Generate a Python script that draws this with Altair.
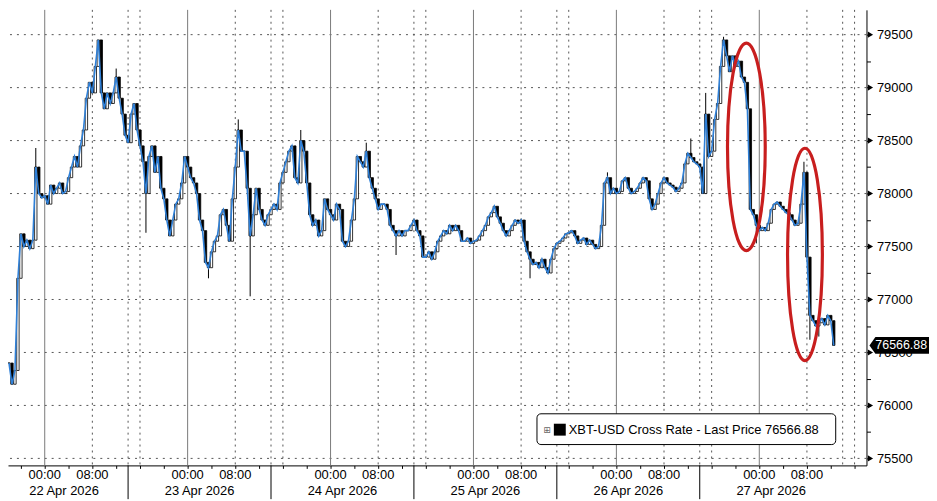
import altair as alt
import pandas as pd

# ---------------- data ----------------
start_time = "2026-04-21 18:00"   # first 30-min bar
close = [
    76400, 76200, 76330, 77200, 77620, 77500, 77560, 77480, 77560, 78250, 78000, 77960, 77980,
    77900, 78080, 78000, 78050, 78100, 78000, 78020, 78150, 78250, 78350, 78250, 78450, 78600, 78900, 79050, 78950,
    79200, 79450, 78950, 78800, 78950, 78850, 78950, 79100, 78900, 78750, 78550, 78480, 78750, 78850, 78600, 78450,
    78300, 78000, 78350, 78450, 78200, 78350, 78050, 77950, 77750, 77600, 77750, 77900, 77950, 78100, 78350, 78250,
    78150, 78100, 78000, 77750, 77650, 77350, 77300, 77450, 77550, 77600, 77800, 77850, 77700, 77550, 77950, 78250,
    78600, 78400, 78400, 78050, 77600, 77800, 78050, 77850, 77750, 77700, 77800, 77850, 77900, 77850, 78100, 78200,
    78300, 78400, 78450, 78150, 78100, 78500, 78400, 78100, 77800, 77700, 77750, 77600, 77650, 77950, 77850, 77800,
    77750, 77900, 77850, 77550, 77500, 77550, 77750, 77950, 78350, 78300, 78250, 78400, 78150, 78050, 77950, 77850,
    77900, 77900, 77850, 77700, 77650, 77600, 77650, 77600, 77650, 77650, 77700, 77750, 77650, 77600, 77400, 77400,
    77450, 77380, 77450, 77550, 77600, 77650, 77620, 77700, 77650, 77700, 77650, 77550, 77550, 77580, 77530, 77550,
    77560, 77600, 77650, 77700, 77780, 77820, 77880, 77780, 77720, 77650, 77600, 77650, 77700, 77750, 77720, 77750,
    77550, 77450, 77380, 77330, 77350, 77300, 77380, 77300, 77250, 77380, 77480, 77530, 77550, 77580, 77620, 77630,
    77650, 77600, 77530, 77560, 77580, 77520, 77560, 77520, 77480, 77500, 77700, 78100, 78150, 78000, 78050, 78000,
    78020, 78120, 78150, 78050, 78000, 78020, 78050, 78100, 78150, 78120, 77950, 77850, 77900, 78000, 78100, 78150,
    78100, 78080, 78060, 78020, 78050, 78100, 78280, 78380, 78340, 78300, 78280, 78250, 78000, 78750, 78350, 78400,
    78700, 78850, 79200, 79450, 79300, 79150, 79300, 79200, 79250, 79100, 79050, 78800, 77850, 77800, 77700, 77650,
    77680, 77650, 77720, 77850, 77900, 77920, 77880, 77850, 77820, 77800, 77750, 77700, 77720, 77900, 78200, 77400,
    76850, 76800, 76750, 76780, 76820, 76760, 76850, 76800, 76566.88,
]
last_price = 76566.88
series_name = "XBT-USD Cross Rate - Last Price"

# notable wick extremes (bar time in hours from 22 Apr 00:00, extreme price)
wick_h = [-1.5, 12.0, 17.0, 27.5, 32.5, 34.5, 43.0, 54.0, 59.0, 81.5, 94.5, 108.5, 111.0, 114.0, 119.5, 127.5, 128.5, 130.0]
wick_v = [78430, 79180, 77630, 77200, 78700, 77030, 78600, 78480, 77420, 77200, 78200, 78520, 78950, 79480, 77530, 78300, 76620, 76650]

day_labels = ["22 Apr 2026", "23 Apr 2026", "24 Apr 2026", "25 Apr 2026", "26 Apr 2026", "27 Apr 2026"]
day_label_hours = [3.25, 26, 50, 74, 98, 122]
time_labels = ["00:00", "08:00"]
midnights = [0, 24, 48, 72, 96, 120]
dotted_hours = [8, 14, 16, 32, 38, 40, 56, 62, 64, 80, 86, 88, 104, 110, 112, 128, 134, 136]
separator_hours = [14, 38, 62, 86, 110]
y_grid = [75500, 76000, 76500, 77000, 77500, 78000, 78500, 79000, 79500]
y_minor = list(range(75500, 79751, 250))
x_ticks = list(range(-4, 137, 4))

ellipse_h = [117.83, 127.67]
ellipse_v = [78441, 77425]

# ---------------- frames ----------------
times = pd.date_range(start_time, periods=len(close), freq="30min")
ref0 = pd.Timestamp("2026-04-22 00:00")
hours = (times - ref0) / pd.Timedelta(hours=1)
df = pd.DataFrame({"h": hours, "close": close})
df["open"] = df["close"].shift(1).fillna(df["close"])
wk = pd.DataFrame({"h": wick_h, "ext": wick_v}).merge(df[["h", "close"]], on="h", how="left")

W, H = 865, 459
FONT = "Liberation Sans"
XS = alt.Scale(domain=[-37 / 6, 138], nice=False, zero=False, padding=0)
YS = alt.Scale(domain=[75434, 79734], nice=False, zero=False, padding=0)

XAX = alt.Axis(orient="bottom", values=x_ticks, labels=False, tickSize=3,
               tickColor="black", domainColor="black", grid=False, title=None, zindex=0)
YAX = alt.Axis(orient="right", values=y_minor, format="d",
               labelExpr="datum.value % 500 == 0 ? datum.label : ''",
               tickSize=4, tickColor="black", domainColor="black", grid=False, title=None,
               labelFont=FONT, labelFontSize=13, labelColor="black", labelPadding=6, zindex=0)


def X(f):
    return alt.X(f, scale=XS, axis=XAX)


def Y(f):
    return alt.Y(f, scale=YS, axis=YAX)


# grid
hgrid = alt.Chart(pd.DataFrame({"v": y_grid})).mark_rule(
    color="#555", strokeDash=[2, 5], strokeWidth=1
).encode(y=Y("v:Q"))

vsolid = alt.Chart(pd.DataFrame({"h": midnights})).mark_rule(
    color="#7a7a7a", strokeWidth=1
).encode(x=X("h:Q"))

vdot = alt.Chart(pd.DataFrame({"h": dotted_hours})).mark_rule(
    color="#555", strokeDash=[2, 4], strokeWidth=1
).encode(x=X("h:Q"))

# candles + wicks + line
wicks = alt.Chart(wk).mark_rule(color="black", strokeWidth=1).encode(
    x=X("h:Q"), y=Y("ext:Q"), y2="close:Q")
candles = alt.Chart(df).mark_bar(width=2.4, stroke="black", strokeWidth=0.8).encode(
    x=X("h:Q"),
    y=Y("open:Q"),
    y2="close:Q",
    fill=alt.condition("datum.close >= datum.open", alt.value("white"), alt.value("black")),
)
line = alt.Chart(df).mark_line(color="#2f80d8", strokeWidth=1.6).encode(
    x=X("h:Q"),
    y=Y("close:Q"),
)

# ellipses
k = 0.5523


def ell(a):
    return (f"M0,-1 C{k*a:.4f},-1 {a:.4f},{-k:.4f} {a:.4f},0 "
            f"C{a:.4f},{k:.4f} {k*a:.4f},1 0,1 "
            f"C{-k*a:.4f},1 {-a:.4f},{k:.4f} {-a:.4f},0 "
            f"C{-a:.4f},{-k:.4f} {-k*a:.4f},-1 0,-1 Z")


ell1 = alt.Chart(pd.DataFrame({"h": [ellipse_h[0]], "v": [ellipse_v[0]]})).mark_point(
    shape=ell(0.182), size=209 ** 2, filled=False, stroke="#c81e1e", strokeWidth=3.2, opacity=1
).encode(x=X("h:Q"), y=Y("v:Q"))
ell2 = alt.Chart(pd.DataFrame({"h": [ellipse_h[1]], "v": [ellipse_v[1]]})).mark_point(
    shape=ell(0.164), size=214 ** 2, filled=False, stroke="#c81e1e", strokeWidth=3.2, opacity=1
).encode(x=X("h:Q"), y=Y("v:Q"))

# y axis arrows
arrows = alt.Chart(pd.DataFrame({"v": y_grid})).mark_point(
    shape="triangle-right", filled=True, size=38, color="black", opacity=1
).encode(x=alt.value(W + 4), y=Y("v:Q"))

# x axis labels
tl = pd.DataFrame({"h": [m + o for m in midnights for o in (0, 8)],
                   "t": [time_labels[j] for _ in midnights for j in (0, 1)]})
tlab = alt.Chart(tl).mark_text(font=FONT, fontSize=13, color="black", baseline="middle").encode(
    x=X("h:Q"), y=alt.value(H + 10), text="t:N")
dl = pd.DataFrame({"h": day_label_hours, "t": day_labels})
dlab = alt.Chart(dl).mark_text(font=FONT, fontSize=13, color="black", baseline="middle").encode(
    x=X("h:Q"), y=alt.value(H + 26), text="t:N")
seps = alt.Chart(pd.DataFrame({"h": separator_hours})).mark_rule(color="black", strokeWidth=1).encode(
    x=X("h:Q"), y=alt.value(H), y2=alt.value(H + 34))

# legend box
one = pd.DataFrame({"a": [0]})
lbox = alt.Chart(one).mark_rect(fill="white", stroke="black", strokeWidth=1, cornerRadius=4).encode(
    x=alt.value(533), x2=alt.value(834), y=alt.value(407), y2=alt.value(438))
licon = alt.Chart(one).mark_text(text="⊞", font="DejaVu Sans", fontSize=9, color="#666", baseline="middle").encode(
    x=alt.value(543), y=alt.value(423))
lsq = alt.Chart(one).mark_rect(fill="black").encode(
    x=alt.value(550), x2=alt.value(562), y=alt.value(417), y2=alt.value(429))
ltxt = alt.Chart(pd.DataFrame({"t": [f"{series_name} {last_price:.2f}"]})).mark_text(
    font=FONT, fontSize=13, color="black", align="left", baseline="middle").encode(
    x=alt.value(565), y=alt.value(423), text="t:N")

# last price tag
tag_path = "M-1,0 L-0.8,-0.283 L1,-0.283 L1,0.283 L-0.8,0.283 Z"
lp = pd.DataFrame({"v": [last_price], "t": [f"{last_price:.2f}"]})
tag = alt.Chart(lp).mark_point(shape=tag_path, size=3600, filled=True, color="black", opacity=1).encode(
    x=alt.value(W + 33), y=Y("v:Q"))
tagtxt = alt.Chart(lp).mark_text(font=FONT, fontSize=12.5, color="white", baseline="middle").encode(
    x=alt.value(W + 35), y=Y("v:Q"), text="t:N")

chart = alt.layer(
    hgrid, vsolid, vdot, wicks, candles, line, ell1, ell2, arrows,
    tlab, dlab, seps, lbox, licon, lsq, ltxt, tag, tagtxt,
).properties(
    width=W, height=H,
    autosize=alt.AutoSizeParams(type="none"),
    padding={"left": 0, "top": 0, "right": 63, "bottom": 34},
    background="white",
).configure_view(strokeWidth=0)

chart.save("out.html", embed_options={"renderer": "svg", "actions": False})
